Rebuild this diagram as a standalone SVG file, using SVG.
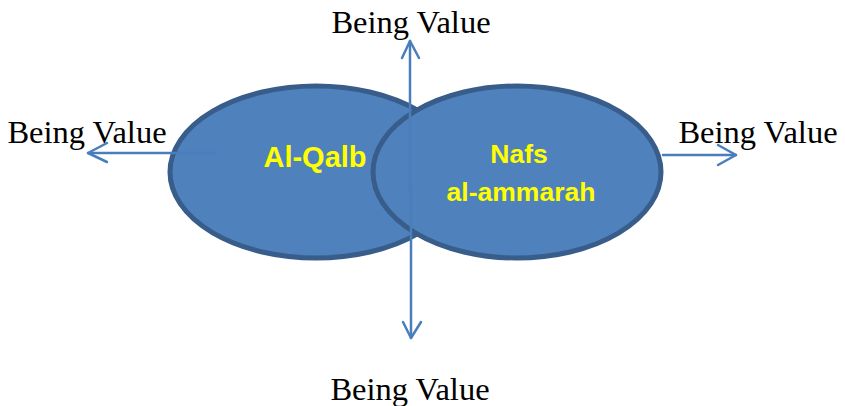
<svg xmlns="http://www.w3.org/2000/svg" width="845" height="406" viewBox="0 0 845 406">
  <style>
    .bubble { fill: #4f81bd; stroke: #385d8a; stroke-width: 5; }
    .axis { fill: none; stroke: #4a7ebb; stroke-width: 2.5; stroke-linecap: round; stroke-linejoin: round; }
    .label { font-family: "Liberation Serif", "Times New Roman", serif; font-size: 32.5px; fill: #000; text-anchor: middle; }
    .inner { font-family: "Liberation Sans", Arial, sans-serif; font-weight: bold; font-size: 26.5px; fill: #ffff00; text-anchor: middle; }
  </style>

  <g id="al-qalb">
    <ellipse class="bubble" cx="316" cy="172" rx="146" ry="86"/>
    <text class="inner" x="315" y="167" style="font-size:29px">Al-Qalb</text>
  </g>

  <g id="nafs-al-ammarah">
    <ellipse class="bubble" cx="517" cy="172" rx="144" ry="86"/>
    <text class="inner" x="519" y="163">Nafs</text>
    <text class="inner" x="521" y="201">al-ammarah</text>
  </g>

  <g id="connectors">
    <!-- vertical axis: up and down -->
    <line class="axis" x1="410" y1="41" x2="410" y2="190"/>
    <polyline class="axis" points="402,58 410,41 419,58"/>
    <line class="axis" x1="411" y1="190" x2="411" y2="338"/>
    <polyline class="axis" points="403,322 411,338 421,322"/>
    <!-- left arrow -->
    <line class="axis" x1="216" y1="153" x2="88" y2="153"/>
    <polyline class="axis" points="107,143 88,153 107,162"/>
    <!-- right arrow -->
    <line class="axis" x1="663" y1="155" x2="736" y2="155"/>
    <polyline class="axis" points="718,145 736,155 718,165"/>
  </g>

  <g id="labels">
    <text class="label" x="411" y="33">Being Value</text>
    <text class="label" x="87" y="143">Being Value</text>
    <text class="label" x="758" y="143">Being Value</text>
    <text class="label" x="410" y="400">Being Value</text>
  </g>
</svg>
